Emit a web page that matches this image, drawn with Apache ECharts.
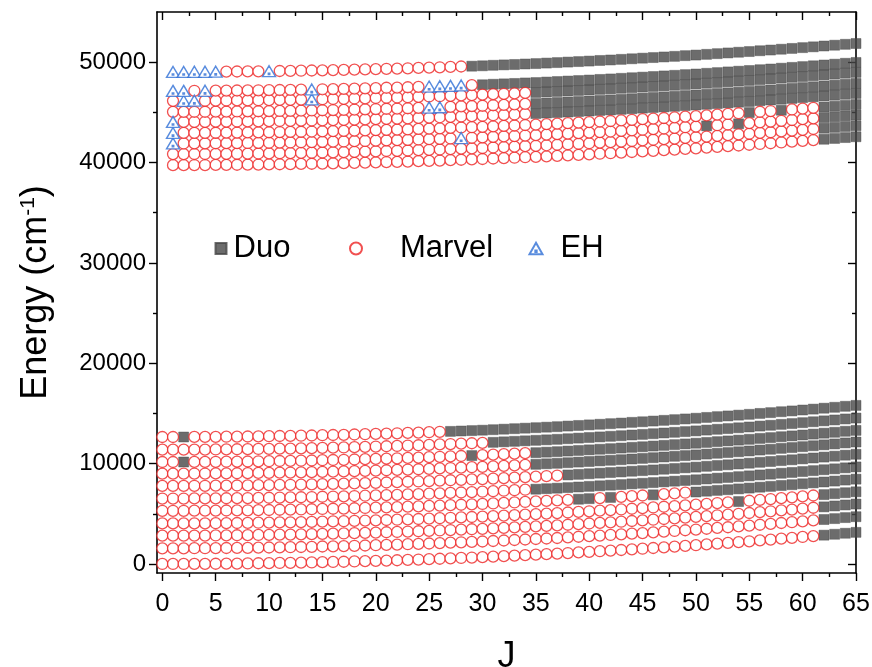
<!DOCTYPE html>
<html><head><meta charset="utf-8">
<script src="https://cdn.jsdelivr.net/npm/echarts@6/dist/echarts.min.js"></script>
<style>html,body{margin:0;padding:0;background:#fff}#c{width:872px;height:667px}</style>
</head><body><div id="c"></div>
<script>
// ---- data: J values ----
const J = [0,1,2,3,4,5,6,7,8,9,10,11,12,13,14,15,16,17,18,19,20,21,22,23,24,25,26,27,28,29,30,31,32,33,34,35,36,37,38,39,40,41,42,43,44,45,46,47,48,49,50,51,52,53,54,55,56,57,58,59,60,61,62,63,64,65];

// ---- lower electronic manifold: energies (cm-1) of each level vs J ----
const L0 = [0,0,0,10,10,20,30,40,50,70,80,100,110,130,150,180,200,220,250,280,310,340,370,410,440,480,520,560,600,640,680,730,780,830,880,930,980,1030,1090,1150,1210,1270,1330,1390,1460,1520,1590,1660,1730,1800,1870,1950,2030,2100,2180,2260,2350,2430,2520,2600,2690,2780,2870,2960,3060,3150];
const L1 = [1560,1560,1560,1570,1570,1580,1590,1600,1610,1630,1640,1660,1670,1690,1710,1740,1760,1780,1810,1840,1870,1900,1930,1970,2000,2040,2080,2120,2160,2200,2240,2290,2340,2390,2440,2490,2540,2590,2650,2710,2770,2830,2890,2950,3020,3080,3150,3220,3290,3360,3430,3510,3590,3660,3740,3820,3910,3990,4080,4160,4250,4340,4430,4520,4620,4710];
const L2 = [2820,2820,2820,2830,2830,2840,2850,2860,2870,2890,2900,2920,2930,2950,2970,3000,3020,3040,3070,3100,3130,3160,3190,3230,3260,3300,3340,3380,3420,3460,3500,3550,3600,3650,3700,3750,3800,3850,3910,3970,4030,4090,4150,4210,4280,4340,4410,4480,4550,4620,4690,4770,4850,4920,5000,5080,5170,5250,5340,5420,5510,5600,5690,5780,5880,5970];
const L3 = [4040,4040,4040,4050,4050,4060,4070,4080,4090,4110,4120,4140,4150,4170,4190,4220,4240,4260,4290,4320,4350,4380,4410,4450,4480,4520,4560,4600,4640,4680,4720,4770,4820,4870,4920,4970,5020,5070,5130,5190,5250,5310,5370,5430,5500,5560,5630,5700,5770,5840,5910,5990,6070,6140,6220,6300,6390,6470,6560,6640,6730,6820,6910,7000,7100,7190];
const L4 = [5300,5300,5300,5310,5310,5320,5330,5340,5350,5370,5380,5400,5410,5430,5450,5480,5500,5520,5550,5580,5610,5640,5670,5710,5740,5780,5820,5860,5900,5940,5980,6030,6080,6130,6180,6230,6280,6330,6390,6450,6510,6570,6630,6690,6760,6820,6890,6960,7030,7100,7170,7250,7330,7400,7480,7560,7650,7730,7820,7900,7990,8080,8170,8260,8360,8450];
const L5 = [6520,6520,6520,6530,6530,6540,6550,6560,6570,6590,6600,6620,6630,6650,6670,6700,6720,6740,6770,6800,6830,6860,6890,6930,6960,7000,7040,7080,7120,7160,7200,7250,7300,7350,7400,7450,7500,7550,7610,7670,7730,7790,7850,7910,7980,8040,8110,8180,8250,8320,8390,8470,8550,8620,8700,8780,8870,8950,9040,9120,9210,9300,9390,9480,9580,9670];
const L6 = [7780,7780,7780,7790,7790,7800,7810,7820,7830,7850,7860,7880,7890,7910,7930,7960,7980,8000,8030,8060,8090,8120,8150,8190,8220,8260,8300,8340,8380,8420,8460,8510,8560,8610,8660,8710,8760,8810,8870,8930,8990,9050,9110,9170,9240,9300,9370,9440,9510,9580,9650,9730,9810,9880,9960,10040,10130,10210,10300,10380,10470,10560,10650,10740,10840,10930];
const L7 = [9000,9000,9000,9010,9010,9020,9030,9040,9050,9070,9080,9100,9110,9130,9150,9180,9200,9220,9250,9280,9310,9340,9370,9410,9440,9480,9520,9560,9600,9640,9680,9730,9780,9830,9880,9930,9980,10030,10090,10150,10210,10270,10330,10390,10460,10520,10590,10660,10730,10800,10870,10950,11030,11100,11180,11260,11350,11430,11520,11600,11690,11780,11870,11960,12060,12150];
const L8 = [10160,10160,10160,10170,10170,10180,10190,10200,10210,10230,10240,10260,10270,10290,10310,10340,10360,10380,10410,10440,10470,10500,10530,10570,10600,10640,10680,10720,10760,10800,10840,10890,10940,10990,11040,11090,11140,11190,11250,11310,11370,11430,11490,11550,11620,11680,11750,11820,11890,11960,12030,12110,12190,12260,12340,12420,12510,12590,12680,12760,12850,12940,13030,13120,13220,13310];
const L9 = [11390,11390,11390,11400,11400,11410,11420,11430,11440,11460,11470,11490,11500,11520,11540,11570,11590,11610,11640,11670,11700,11730,11760,11800,11830,11870,11910,11950,11990,12030,12070,12120,12170,12220,12270,12320,12370,12420,12480,12540,12600,12660,12720,12780,12850,12910,12980,13050,13120,13190,13260,13340,13420,13490,13570,13650,13740,13820,13910,13990,14080,14170,14260,14350,14450,14540];
const L10 = [12650,12650,12650,12660,12660,12670,12680,12690,12700,12720,12730,12750,12760,12780,12800,12830,12850,12870,12900,12930,12960,12990,13020,13060,13090,13130,13170,13210,13250,13290,13330,13380,13430,13480,13530,13580,13630,13680,13740,13800,13860,13920,13980,14040,14110,14170,14240,14310,14380,14450,14520,14600,14680,14750,14830,14910,15000,15080,15170,15250,15340,15430,15520,15610,15710,15800];

// ---- upper electronic manifold (no J = 0) ----
const U0 = [null,39740,39740,39750,39750,39760,39770,39780,39790,39800,39810,39830,39840,39860,39880,39900,39920,39940,39970,39990,40020,40050,40070,40100,40140,40170,40200,40240,40280,40310,40350,40400,40440,40480,40530,40570,40620,40670,40720,40770,40820,40880,40930,40990,41050,41110,41170,41230,41290,41360,41420,41490,41560,41630,41700,41770,41850,41920,42000,42080,42160,42240,42320,42400,42490,42570];
const U1 = [null,40840,40840,40850,40850,40860,40870,40880,40890,40900,40910,40930,40940,40960,40980,41000,41020,41040,41070,41090,41120,41150,41170,41200,41240,41270,41300,41340,41380,41410,41450,41500,41540,41580,41630,41670,41720,41770,41820,41870,41920,41980,42030,42090,42150,42210,42270,42330,42390,42460,42520,42590,42660,42730,42800,42870,42950,43020,43100,43180,43260,43340,43420,43500,43590,43670];
const U2 = [null,41900,41900,41910,41910,41920,41930,41940,41950,41960,41970,41990,42000,42020,42040,42060,42080,42100,42130,42150,42180,42210,42230,42260,42300,42330,42360,42400,42440,42470,42510,42560,42600,42640,42690,42730,42780,42830,42880,42930,42980,43040,43090,43150,43210,43270,43330,43390,43450,43520,43580,43650,43720,43790,43860,43930,44010,44080,44160,44240,44320,44400,44480,44560,44650,44730];
const U3 = [null,42950,42950,42960,42960,42970,42980,42990,43000,43010,43020,43040,43050,43070,43090,43110,43130,43150,43180,43200,43230,43260,43280,43310,43350,43380,43410,43450,43490,43520,43560,43610,43650,43690,43740,43780,43830,43880,43930,43980,44030,44090,44140,44200,44260,44320,44380,44440,44500,44570,44630,44700,44770,44840,44910,44980,45060,45130,45210,45290,45370,45450,45530,45610,45700,45780];
const U4 = [null,44050,44050,44060,44060,44070,44080,44090,44100,44110,44120,44140,44150,44170,44190,44210,44230,44250,44280,44300,44330,44360,44380,44410,44450,44480,44510,44550,44590,44620,44660,44710,44750,44790,44840,44880,44930,44980,45030,45080,45130,45190,45240,45300,45360,45420,45480,45540,45600,45670,45730,45800,45870,45940,46010,46080,46160,46230,46310,46390,46470,46550,46630,46710,46800,46880];
const U5 = [null,45050,45050,45060,45060,45070,45080,45090,45100,45110,45120,45140,45150,45170,45190,45210,45230,45250,45280,45300,45330,45360,45380,45410,45450,45480,45510,45550,45590,45620,45660,45710,45750,45790,45840,45880,45930,45980,46030,46080,46130,46190,46240,46300,46360,46420,46480,46540,46600,46670,46730,46800,46870,46940,47010,47080,47160,47230,47310,47390,47470,47550,47630,47710,47800,47880];
const U6 = [null,46150,46150,46160,46160,46170,46180,46190,46200,46210,46220,46240,46250,46270,46290,46310,46330,46350,46380,46400,46430,46460,46480,46510,46550,46580,46610,46650,46690,46720,46760,46810,46850,46890,46940,46980,47030,47080,47130,47180,47230,47290,47340,47400,47460,47520,47580,47640,47700,47770,47830,47900,47970,48040,48110,48180,48260,48330,48410,48490,48570,48650,48730,48810,48900,48980];
const U7 = [null,47140,47140,47150,47150,47160,47170,47180,47190,47200,47210,47230,47240,47260,47280,47300,47320,47340,47370,47390,47420,47450,47470,47500,47540,47570,47600,47640,47680,47710,47750,47800,47840,47880,47930,47970,48020,48070,48120,48170,48220,48280,48330,48390,48450,48510,48570,48630,48690,48760,48820,48890,48960,49030,49100,49170,49250,49320,49400,49480,49560,49640,49720,49800,49890,49970];
const U8 = [null,49030,49030,49040,49040,49050,49060,49070,49080,49090,49100,49120,49130,49150,49170,49190,49210,49230,49260,49280,49310,49340,49360,49390,49430,49460,49490,49530,49570,49600,49640,49690,49730,49770,49820,49860,49910,49960,50010,50060,50110,50170,50220,50280,50340,50400,50460,50520,50580,50650,50710,50780,50850,50920,50990,51060,51140,51210,51290,51370,51450,51530,51610,51690,51780,51860];

// ---- which source gives each level at each J (run-length: code, count of J values) ----
// M = Marvel, D = Duo, E = EH, '.' = none
const lowerSrc = [
  [['M',62],['D',4]],
  [['M',62],['D',4]],
  [['M',62],['D',4]],
  [['M',54],['D',1],['M',7],['D',4]],
  [['M',39],['D',2],['M',1],['D',1],['M',3],['D',1],['M',3],['D',16]],
  [['M',35],['D',31]],
  [['M',38],['D',28]],
  [['M',35],['D',31]],
  [['M',2],['D',1],['M',26],['D',1],['M',5],['D',31]],
  [['M',31],['D',35]],
  [['M',2],['D',1],['M',24],['D',39]]
];
const upperSrc = [
  [['.',1],['M',61],['D',4]],
  [['.',1],['M',61],['D',4]],
  [['.',1],['E',1],['M',26],['E',1],['M',22],['D',1],['M',2],['D',1],['M',7],['D',4]],
  [['.',1],['E',1],['M',53],['D',1],['M',2],['D',1],['M',3],['D',4]],
  [['.',1],['E',1],['M',33],['D',31]],
  [['.',1],['M',24],['E',2],['M',8],['D',31]],
  [['.',1],['M',1],['E',2],['M',10],['E',1],['M',20],['D',31]],
  [['.',1],['E',2],['M',1],['E',1],['M',9],['E',1],['M',10],['E',4],['M',1],['D',36]],
  [['.',1],['E',5],['M',4],['E',1],['M',18],['D',37]]
];

// ---- ticks ----
const xMajor = [0,5,10,15,20,25,30,35,40,45,50,55,60,65];
const xMinor = [2.5,7.5,12.5,17.5,22.5,27.5,32.5,37.5,42.5,47.5,52.5,57.5,62.5];
const yMajor = [0,10000,20000,30000,40000,50000];
const yMinor = [5000,15000,25000,35000,45000];

const lowerLevels = [L0,L1,L2,L3,L4,L5,L6,L7,L8,L9,L10];
const upperLevels = [U0,U1,U2,U3,U4,U5,U6,U7,U8];

function expand(rle){ const out=[]; rle.forEach(function(p){ for(let i=0;i<p[1];i++) out.push(p[0]); }); return out; }
const duo=[], marvel=[], eh=[];
function collect(levels, srcs){
  levels.forEach(function(lv,k){
    const codes = expand(srcs[k]);
    codes.forEach(function(c,j){
      if (lv[j]==null) return;
      const p=[J[j], lv[j]];
      if (c==='M') marvel.push(p); else if (c==='D') duo.push(p); else if (c==='E') eh.push(p);
    });
  });
}
collect(lowerLevels, lowerSrc);
collect(upperLevels, upperSrc);

const FONT = "'Liberation Sans', Arial, sans-serif";
const RED = '#ee2424', BLUE = '#2f6fd6', GREY = '#474747';
const triPath = 'path://M0,-10L8.66,5L-8.66,5Z M-0.9,0.2L0.9,0.2L0.9,2L-0.9,2Z';
const plain = function(v){ return String(v); };

function xAx(pos, vals, len, inside, showLine, showLabel){
  return { type:'value', position:pos, min:-0.5, max:65, gridIndex:0,
    axisLine:{show:showLine, onZero:false, lineStyle:{color:'#000', width:1.6}},
    axisTick:{show:true, inside:inside, length:len, customValues:vals, lineStyle:{color:'#000', width:1.4}},
    axisLabel:{show:showLabel, customValues:vals, formatter:plain, fontSize:25, color:'#000', fontFamily:FONT, margin:19},
    splitLine:{show:false}, minorTick:{show:false} };
}
function yAx(pos, vals, len, inside, showLine, showLabel){
  return { type:'value', position:pos, min:-900, max:55000, gridIndex:0,
    axisLine:{show:showLine, onZero:false, lineStyle:{color:'#000', width:1.6}},
    axisTick:{show:true, inside:inside, length:len, customValues:vals, lineStyle:{color:'#000', width:1.4}},
    axisLabel:{show:showLabel, customValues:vals, formatter:plain, fontSize:24, color:'#000', fontFamily:FONT, margin:11},
    splitLine:{show:false}, minorTick:{show:false} };
}
const xAxes = [
  Object.assign(xAx('bottom', xMajor, 8, false, true, true), {name:'J', nameLocation:'middle', nameGap:66, nameTextStyle:{fontSize:36, color:'#000', fontFamily:FONT}}),
  xAx('bottom', xMinor, 4, false, false, false),
  xAx('top', xMajor, 8, true, true, false),
  xAx('top', xMinor, 4, true, false, false)
];
const yAxes = [
  Object.assign(yAx('left', yMajor, 8, false, true, true), {name:'{t|Energy (cm}{s|-1}{t|)}', nameLocation:'middle', nameGap:103, nameRotate:90,
    nameTextStyle:{color:'#000', fontFamily:FONT, fontSize:36, rich:{t:{fontSize:36, fontFamily:FONT, color:'#000'}, s:{fontSize:21, fontFamily:FONT, color:'#000', verticalAlign:'top', lineHeight:21}}}}),
  yAx('left', yMinor, 4, false, false, false),
  yAx('right', yMajor, 8, true, true, false),
  yAx('right', yMinor, 4, true, false, false)
];

function legendAt(name, left, size, pad){
  return { orient:'horizontal', left:left, top:228, itemWidth:size, itemHeight:size, itemGap:0, selectedMode:false,
    textStyle:{fontSize:31, color:'#000', fontFamily:FONT, padding:[0,0,0,pad]}, data:[name] };
}

const option = {
  animation:false,
  backgroundColor:'#fff',
  grid:{left:157, right:16, top:12, bottom:94, containLabel:false, outerBoundsMode:'none'},
  legend:[
    legendAt('Duo', 209.5, 11, 2),
    legendAt('Marvel', 344, 12, 33),
    legendAt('EH', 523.5, 13, 13)
  ],
  xAxis: xAxes,
  yAxis: yAxes,
  series:[
    {name:'Duo', type:'scatter', data:duo, symbol:'rect', symbolSize:10, xAxisIndex:0, yAxisIndex:0,
      itemStyle:{color:GREY, borderColor:GREY, borderWidth:0.5}, z:2},
    {name:'Marvel', type:'scatter', data:marvel, symbol:'circle', symbolSize:11, xAxisIndex:0, yAxisIndex:0,
      itemStyle:{color:'#fff', borderColor:RED, borderWidth:1.3}, z:3},
    {name:'EH', type:'scatter', data:eh, symbol:triPath, symbolSize:[13,11], symbolKeepAspect:false, xAxisIndex:0, yAxisIndex:0,
      itemStyle:{color:'#fff', borderColor:BLUE, borderWidth:1.4}, z:4}
  ]
};
const chart = echarts.init(document.getElementById('c'), null, {renderer:'canvas'});
chart.setOption(option);
</script>
</body></html>
